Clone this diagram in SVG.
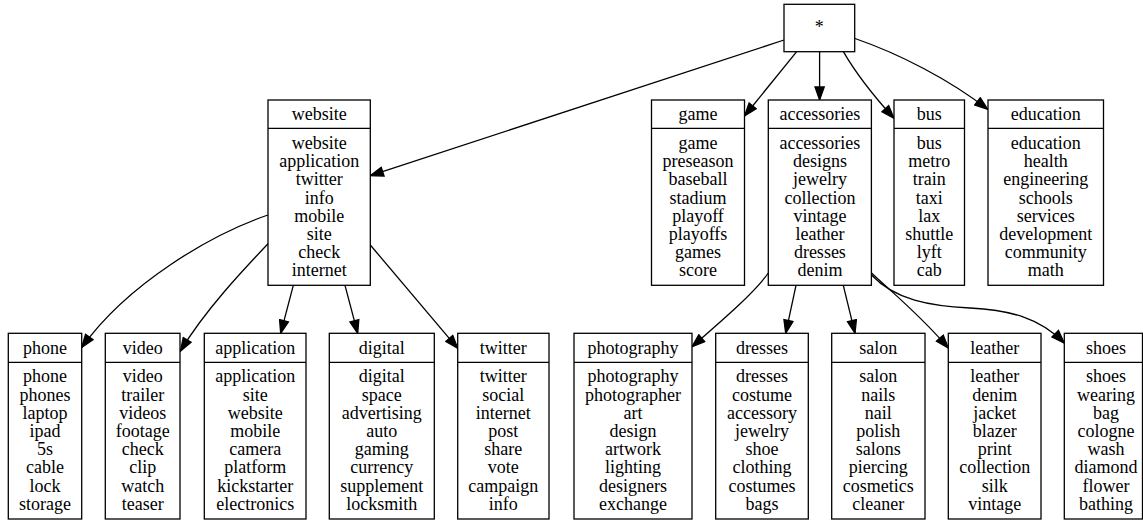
<svg xmlns="http://www.w3.org/2000/svg" width="1143" height="520" viewBox="0 0 1143 520" font-family="'Liberation Serif', 'DejaVu Serif', serif">
<style>
.box{fill:#fff;stroke:#000;stroke-width:1.3}
.div{stroke:#000;stroke-width:1.3}
.t{font-family:'Liberation Serif','DejaVu Serif',serif;font-size:18px;text-anchor:middle;fill:#000}
.e{fill:none;stroke:#000;stroke-width:1.3;marker-end:url(#arr)}
</style>
<defs>
<marker id="arr" markerUnits="userSpaceOnUse" viewBox="-1 -1 15 11.2" refX="13" refY="4.6" markerWidth="15" markerHeight="11.2" orient="auto">
<path d="M0,0 L13,4.6 L0,9.2 z" fill="#000" stroke="#000" stroke-width="1.3"/>
</marker>
</defs>
<rect width="1143" height="520" fill="#fff"/>
<g id="connectors">
<path class="e" d="M784,40 L370.3,175.7"/>
<path class="e" d="M796.5,51.8 L744.5,116"/>
<path class="e" d="M819.6,51.8 L819.6,100"/>
<path class="e" d="M843.5,51.8 Q861,82 894,118.3"/>
<path class="e" d="M855,38.5 C900,54 950,80 987.7,109.3"/>
<path class="e" d="M268,215 C212,234 128,283 81.7,347.5"/>
<path class="e" d="M268.3,243.5 C245,268 205,310 180.5,351"/>
<path class="e" d="M293.3,285.3 L280.7,333.3"/>
<path class="e" d="M345,285.3 L357.7,333.3"/>
<path class="e" d="M370.3,245 L457.7,348.3"/>
<path class="e" d="M768.3,273 C755,292 725,318 692,346.7"/>
<path class="e" d="M796,285.3 L785.7,333.3"/>
<path class="e" d="M843.3,285.3 L855,333.3"/>
<path class="e" d="M871.5,273 C895,295 920,315 948.3,348"/>
<path class="e" d="M871.5,275 C895,300 930,306 970,308 C1010,310 1040,318 1064.3,343"/>
</g>
<g id="root">
<rect class="box" x="784" y="4.3" width="70.7" height="47.4"/>
<text class="t" x="819.3" y="33" font-family="'Liberation Serif', serif">*</text>
</g>
<g id="n-website" font-family="'Liberation Serif', serif">
<rect class="box" x="268" y="100" width="102.3" height="185.3"/>
<line class="div" x1="268" y1="128.3" x2="370.3" y2="128.3"/>
<text class="t" x="319.2" y="120">website</text>
<text class="t" y="149"><tspan x="319.2">website</tspan><tspan x="319.2" dy="18.2">application</tspan><tspan x="319.2" dy="18.2">twitter</tspan><tspan x="319.2" dy="18.2">info</tspan><tspan x="319.2" dy="18.2">mobile</tspan><tspan x="319.2" dy="18.2">site</tspan><tspan x="319.2" dy="18.2">check</tspan><tspan x="319.2" dy="18.2">internet</tspan></text>
</g>
<g id="n-game">
<rect class="box" x="651.5" y="100" width="93" height="185.3"/>
<line class="div" x1="651.5" y1="128.3" x2="744.5" y2="128.3"/>
<text class="t" x="698" y="120">game</text>
<text class="t" y="149"><tspan x="698">game</tspan><tspan x="698" dy="18.2">preseason</tspan><tspan x="698" dy="18.2">baseball</tspan><tspan x="698" dy="18.2">stadium</tspan><tspan x="698" dy="18.2">playoff</tspan><tspan x="698" dy="18.2">playoffs</tspan><tspan x="698" dy="18.2">games</tspan><tspan x="698" dy="18.2">score</tspan></text>
</g>
<g id="n-accessories">
<rect class="box" x="768.3" y="100" width="103.1" height="185.3"/>
<line class="div" x1="768.3" y1="128.3" x2="871.4" y2="128.3"/>
<text class="t" x="819.9" y="120">accessories</text>
<text class="t" y="149"><tspan x="819.9">accessories</tspan><tspan x="819.9" dy="18.2">designs</tspan><tspan x="819.9" dy="18.2">jewelry</tspan><tspan x="819.9" dy="18.2">collection</tspan><tspan x="819.9" dy="18.2">vintage</tspan><tspan x="819.9" dy="18.2">leather</tspan><tspan x="819.9" dy="18.2">dresses</tspan><tspan x="819.9" dy="18.2">denim</tspan></text>
</g>
<g id="n-bus">
<rect class="box" x="894" y="100" width="70.5" height="185.3"/>
<line class="div" x1="894" y1="128.3" x2="964.5" y2="128.3"/>
<text class="t" x="929.3" y="120">bus</text>
<text class="t" y="149"><tspan x="929.3">bus</tspan><tspan x="929.3" dy="18.2">metro</tspan><tspan x="929.3" dy="18.2">train</tspan><tspan x="929.3" dy="18.2">taxi</tspan><tspan x="929.3" dy="18.2">lax</tspan><tspan x="929.3" dy="18.2">shuttle</tspan><tspan x="929.3" dy="18.2">lyft</tspan><tspan x="929.3" dy="18.2">cab</tspan></text>
</g>
<g id="n-education">
<rect class="box" x="988" y="100" width="115.5" height="185.3"/>
<line class="div" x1="988" y1="128.3" x2="1103.5" y2="128.3"/>
<text class="t" x="1045.8" y="120">education</text>
<text class="t" y="149"><tspan x="1045.8">education</tspan><tspan x="1045.8" dy="18.2">health</tspan><tspan x="1045.8" dy="18.2">engineering</tspan><tspan x="1045.8" dy="18.2">schools</tspan><tspan x="1045.8" dy="18.2">services</tspan><tspan x="1045.8" dy="18.2">development</tspan><tspan x="1045.8" dy="18.2">community</tspan><tspan x="1045.8" dy="18.2">math</tspan></text>
</g>
<g id="n-phone">
<rect class="box" x="8.3" y="333.3" width="73.4" height="185.7"/>
<line class="div" x1="8.3" y1="362.3" x2="81.7" y2="362.3"/>
<text class="t" x="45" y="354.3">phone</text>
<text class="t" y="382.3"><tspan x="45">phone</tspan><tspan x="45" dy="18.2">phones</tspan><tspan x="45" dy="18.2">laptop</tspan><tspan x="45" dy="18.2">ipad</tspan><tspan x="45" dy="18.2">5s</tspan><tspan x="45" dy="18.2">cable</tspan><tspan x="45" dy="18.2">lock</tspan><tspan x="45" dy="18.2">storage</tspan></text>
</g>
<g id="n-video">
<rect class="box" x="105.3" y="333.3" width="74.7" height="185.7"/>
<line class="div" x1="105.3" y1="362.3" x2="180" y2="362.3"/>
<text class="t" x="142.7" y="354.3">video</text>
<text class="t" y="382.3"><tspan x="142.7">video</tspan><tspan x="142.7" dy="18.2">trailer</tspan><tspan x="142.7" dy="18.2">videos</tspan><tspan x="142.7" dy="18.2">footage</tspan><tspan x="142.7" dy="18.2">check</tspan><tspan x="142.7" dy="18.2">clip</tspan><tspan x="142.7" dy="18.2">watch</tspan><tspan x="142.7" dy="18.2">teaser</tspan></text>
</g>
<g id="n-application">
<rect class="box" x="204.3" y="333.3" width="101.7" height="185.7"/>
<line class="div" x1="204.3" y1="362.3" x2="306" y2="362.3"/>
<text class="t" x="255.2" y="354.3">application</text>
<text class="t" y="382.3"><tspan x="255.2">application</tspan><tspan x="255.2" dy="18.2">site</tspan><tspan x="255.2" dy="18.2">website</tspan><tspan x="255.2" dy="18.2">mobile</tspan><tspan x="255.2" dy="18.2">camera</tspan><tspan x="255.2" dy="18.2">platform</tspan><tspan x="255.2" dy="18.2">kickstarter</tspan><tspan x="255.2" dy="18.2">electronics</tspan></text>
</g>
<g id="n-digital">
<rect class="box" x="329.3" y="333.3" width="105" height="185.7"/>
<line class="div" x1="329.3" y1="362.3" x2="434.3" y2="362.3"/>
<text class="t" x="381.8" y="354.3">digital</text>
<text class="t" y="382.3"><tspan x="381.8">digital</tspan><tspan x="381.8" dy="18.2">space</tspan><tspan x="381.8" dy="18.2">advertising</tspan><tspan x="381.8" dy="18.2">auto</tspan><tspan x="381.8" dy="18.2">gaming</tspan><tspan x="381.8" dy="18.2">currency</tspan><tspan x="381.8" dy="18.2">supplement</tspan><tspan x="381.8" dy="18.2">locksmith</tspan></text>
</g>
<g id="n-twitter">
<rect class="box" x="457.7" y="333.3" width="91.3" height="185.7"/>
<line class="div" x1="457.7" y1="362.3" x2="549" y2="362.3"/>
<text class="t" x="503.3" y="354.3">twitter</text>
<text class="t" y="382.3"><tspan x="503.3">twitter</tspan><tspan x="503.3" dy="18.2">social</tspan><tspan x="503.3" dy="18.2">internet</tspan><tspan x="503.3" dy="18.2">post</tspan><tspan x="503.3" dy="18.2">share</tspan><tspan x="503.3" dy="18.2">vote</tspan><tspan x="503.3" dy="18.2">campaign</tspan><tspan x="503.3" dy="18.2">info</tspan></text>
</g>
<g id="n-photography">
<rect class="box" x="574" y="333.3" width="118" height="185.7"/>
<line class="div" x1="574" y1="362.3" x2="692" y2="362.3"/>
<text class="t" x="633" y="354.3">photography</text>
<text class="t" y="382.3"><tspan x="633">photography</tspan><tspan x="633" dy="18.2">photographer</tspan><tspan x="633" dy="18.2">art</tspan><tspan x="633" dy="18.2">design</tspan><tspan x="633" dy="18.2">artwork</tspan><tspan x="633" dy="18.2">lighting</tspan><tspan x="633" dy="18.2">designers</tspan><tspan x="633" dy="18.2">exchange</tspan></text>
</g>
<g id="n-dresses">
<rect class="box" x="715.7" y="333.3" width="92.6" height="185.7"/>
<line class="div" x1="715.7" y1="362.3" x2="808.3" y2="362.3"/>
<text class="t" x="762" y="354.3">dresses</text>
<text class="t" y="382.3"><tspan x="762">dresses</tspan><tspan x="762" dy="18.2">costume</tspan><tspan x="762" dy="18.2">accessory</tspan><tspan x="762" dy="18.2">jewelry</tspan><tspan x="762" dy="18.2">shoe</tspan><tspan x="762" dy="18.2">clothing</tspan><tspan x="762" dy="18.2">costumes</tspan><tspan x="762" dy="18.2">bags</tspan></text>
</g>
<g id="n-salon">
<rect class="box" x="831.7" y="333.3" width="93.3" height="185.7"/>
<line class="div" x1="831.7" y1="362.3" x2="925" y2="362.3"/>
<text class="t" x="878.3" y="354.3">salon</text>
<text class="t" y="382.3"><tspan x="878.3">salon</tspan><tspan x="878.3" dy="18.2">nails</tspan><tspan x="878.3" dy="18.2">nail</tspan><tspan x="878.3" dy="18.2">polish</tspan><tspan x="878.3" dy="18.2">salons</tspan><tspan x="878.3" dy="18.2">piercing</tspan><tspan x="878.3" dy="18.2">cosmetics</tspan><tspan x="878.3" dy="18.2">cleaner</tspan></text>
</g>
<g id="n-leather">
<rect class="box" x="948.3" y="333.3" width="92.7" height="185.7"/>
<line class="div" x1="948.3" y1="362.3" x2="1041" y2="362.3"/>
<text class="t" x="994.7" y="354.3">leather</text>
<text class="t" y="382.3"><tspan x="994.7">leather</tspan><tspan x="994.7" dy="18.2">denim</tspan><tspan x="994.7" dy="18.2">jacket</tspan><tspan x="994.7" dy="18.2">blazer</tspan><tspan x="994.7" dy="18.2">print</tspan><tspan x="994.7" dy="18.2">collection</tspan><tspan x="994.7" dy="18.2">silk</tspan><tspan x="994.7" dy="18.2">vintage</tspan></text>
</g>
<g id="n-shoes">
<rect class="box" x="1064.3" y="333.3" width="78.2" height="185.7"/>
<line class="div" x1="1064.3" y1="362.3" x2="1142.5" y2="362.3"/>
<text class="t" x="1106" y="354.3">shoes</text>
<text class="t" y="382.3"><tspan x="1106">shoes</tspan><tspan x="1106" dy="18.2">wearing</tspan><tspan x="1106" dy="18.2">bag</tspan><tspan x="1106" dy="18.2">cologne</tspan><tspan x="1106" dy="18.2">wash</tspan><tspan x="1106" dy="18.2">diamond</tspan><tspan x="1106" dy="18.2">flower</tspan><tspan x="1106" dy="18.2">bathing</tspan></text>
</g>
</svg>
